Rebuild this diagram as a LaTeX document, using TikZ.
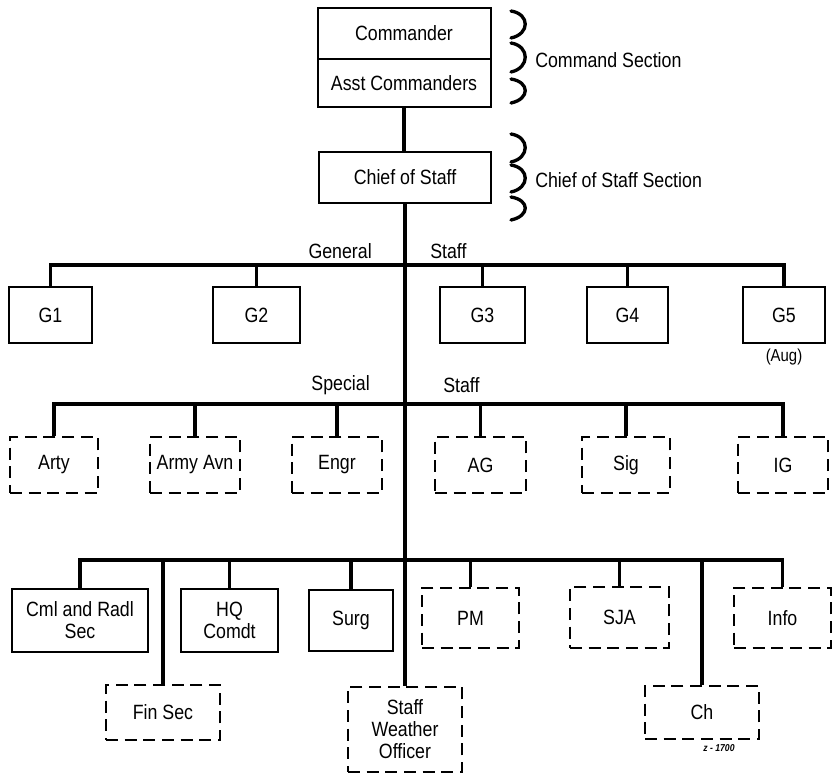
\documentclass[tikz,border=0pt]{standalone}
\usepackage{fontspec}
\setmainfont[FakeStretch=0.86]{Liberation Sans}
\begin{document}
\begin{tikzpicture}[x=0.75pt,y=-0.75pt,
  box/.style={draw, line width=1.5pt, inner sep=0pt, align=center, font=\fontsize{15.5}{16.5}\selectfont},
  solidbox/.style={box},
  dashbox/.style={box, dash pattern=on 9pt off 5pt},
  wh/.style 2 args={minimum width=#1*0.75pt, minimum height=#2*0.75pt},
  conn/.style={line width=2.4pt},
  mainconn/.style={line width=3pt},
  lbl/.style={font=\fontsize{15.5}{16.5}\selectfont, inner sep=0pt},
  brk/.style={line width=2.5pt, line cap=round}
]
\useasboundingbox (0,0) rectangle (832,774);

% command section
\node[solidbox, wh={173}{51}] (cmd) at (404,33.5) {Commander};
\node[solidbox, wh={173}{48}] (asst) at (404,83) {Asst Commanders};
\node[solidbox, wh={172}{51}] (chief) at (405,177.5) {Chief of Staff};

% brackets
\draw[brk] (511,11) .. controls (530,14) and (530,34) .. (511,38);
\draw[brk] (511,43) .. controls (530,46) and (530,68) .. (511,72);
\draw[brk] (511,79) .. controls (530,82) and (530,99) .. (511,103);
\draw[brk] (511,134) .. controls (530,137) and (530,158) .. (511,162);
\draw[brk] (511,165) .. controls (530,168) and (530,188) .. (511,192);
\draw[brk] (511,197) .. controls (530,200) and (530,216) .. (511,220);

\node[lbl, anchor=west] (cmdsec) at (535,60) {Command Section};
\node[lbl, anchor=west] (cossec) at (535,180) {Chief of Staff Section};

% general staff
\node[lbl, anchor=east] (genl) at (372,251) {General};
\node[lbl, anchor=west] (gstaff) at (430,251) {Staff};
\node[solidbox, wh={83}{56}] (g1) at (50.5,315) {G1};
\node[solidbox, wh={87}{56}] (g2) at (256.5,315) {G2};
\node[solidbox, wh={85}{56}] (g3) at (482.5,315) {G3};
\node[solidbox, wh={81}{56}] (g4) at (627.5,315) {G4};
\node[solidbox, wh={82}{56}] (g5) at (784,315) {G5};
\node[font=\fontsize{13}{14}\selectfont, inner sep=0pt] (aug) at (784,357) {(Aug)};

% special staff
\node[lbl, anchor=east] (spec) at (370,385) {Special};
\node[lbl, anchor=west] (sstaff) at (443,385) {Staff};
\node[dashbox, wh={88}{56}] (arty) at (54,465) {Arty};
\node[dashbox, wh={90}{56}] (avn) at (195,465) {Army Avn};
\node[dashbox, wh={90}{56}] (engr) at (337,465) {Engr};
\node[dashbox, wh={91}{56}] (ag) at (480.5,465) {AG};
\node[dashbox, wh={88}{56}] (sig) at (626,465) {Sig};
\node[dashbox, wh={90}{56}] (ig) at (783,465) {IG};

% bottom group
\node[solidbox, wh={136}{63}] (cml) at (80,620.5) {Cml and Radl\\Sec};
\node[solidbox, wh={97}{63}] (hq) at (229.5,620.5) {HQ\\Comdt};
\node[solidbox, wh={84}{61}] (surg) at (351,620) {Surg};
\node[dashbox, wh={97}{60}] (pm) at (470.5,618) {PM};
\node[dashbox, wh={99}{61}] (sja) at (619.5,617.5) {SJA};
\node[dashbox, wh={97}{60}] (info) at (782.5,618) {Info};
\node[dashbox, wh={114}{55}] (fin) at (163,712.5) {Fin Sec};
\node[dashbox, wh={114}{53}] (ch) at (702,712.5) {Ch};
\node[dashbox, wh={114}{85}] (swo) at (405,729.5) {Staff\\Weather\\Officer};
\node[font=\fontsize{7.5}{8}\selectfont\itshape\bfseries, inner sep=0pt] (code) at (719,748) {z - 1700};

% connectors
\coordinate (gbus) at (405,265);
\coordinate (sbus) at (405,404);
\coordinate (bbus) at (405,560);
\draw[mainconn] (asst.south) -- (asst.south |- chief.north);
\draw[mainconn] (chief.south) -- (swo.north);

\draw[conn] (g1.north) |- (gbus) -| (g5.north);
\foreach \n in {g2,g3,g4} \draw[conn] (\n.north) -- (\n.north |- gbus);

\draw[conn] (arty.north) |- (sbus) -| (ig.north);
\foreach \n in {avn,engr,ag,sig} \draw[conn] (\n.north) -- (\n.north |- sbus);

\draw[conn] (cml.north) |- (bbus) -| (info.north);
\foreach \n in {hq,surg,pm,sja,fin,ch} \draw[conn] (\n.north) -- (\n.north |- bbus);
\end{tikzpicture}
\end{document}
